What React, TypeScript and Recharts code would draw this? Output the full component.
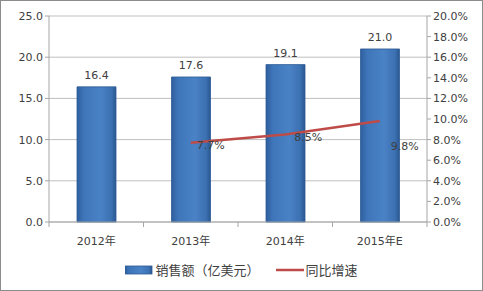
import React from 'react'
import {
  ComposedChart,
  Bar,
  Line,
  XAxis,
  YAxis,
  CartesianGrid,
  LabelList,
  Legend,
} from 'recharts'

const categories = ['2012年', '2013年', '2014年', '2015年E']
const sales = [16.4, 17.6, 19.1, 21.0]
const growth: (number | null)[] = [null, 7.7, 8.5, 9.8]
const leftTicks = [0, 5, 10, 15, 20, 25]
const rightTicks = [0, 2, 4, 6, 8, 10, 12, 14, 16, 18, 20]

const data = categories.map((c, i) => ({ name: c, sales: sales[i], growth: growth[i] }))

// label nudges for the growth line labels (Excel put them a bit off the points)
const growthLabelShift = [
  { dx: 0, dy: 0 },
  { dx: 20, dy: 3 },
  { dx: 23, dy: 4 },
  { dx: 25, dy: 26 },
]

const W = 483
const H = 291
const PLOT_LEFT = 49
const PLOT_RIGHT = 427
const BAND = (PLOT_RIGHT - PLOT_LEFT) / categories.length

const font = '"DejaVu Sans", Verdana, sans-serif'
const cjk = '"DejaVu Sans", "Noto Sans CJK SC", sans-serif'
const textColor = '#404040'
const axisGray = '#a6a6a6'
const lineRed = '#be4b48'

const XTick = (props: any) => {
  const { x, y, payload, index } = props
  const left = x - BAND / 2
  return (
    <g>
      <line x1={left} x2={left} y1={y - 8} y2={y - 3} stroke={axisGray} />
      {index === categories.length - 1 ? (
        <line x1={x + BAND / 2} x2={x + BAND / 2} y1={y - 8} y2={y - 3} stroke={axisGray} />
      ) : null}
      <text x={x} y={y + 15} textAnchor="middle" fill={textColor} fontSize={11} fontFamily={cjk}>
        {payload.value}
      </text>
    </g>
  )
}

const GrowthLabel = (props: any) => {
  const { x, y, value, index } = props
  if (value == null) return null
  const s = growthLabelShift[index] || { dx: 0, dy: 0 }
  return (
    <text
      x={x + s.dx}
      y={y + s.dy}
      textAnchor="middle"
      dominantBaseline="middle"
      fill={textColor}
      fontSize={11}
      fontFamily={font}
    >
      {Number(value).toFixed(1)}%
    </text>
  )
}

const LegendContent = () => (
  <div
    style={{
      display: 'flex',
      justifyContent: 'center',
      alignItems: 'center',
      paddingTop: 8,
      fontFamily: '"Noto Sans CJK SC", sans-serif',
      fontSize: 13,
      color: textColor,
    }}
  >
    <svg width={28} height={10} style={{ marginRight: 2 }}>
      <rect x={0} y={1} width={27} height={8} fill="url(#barGrad)" stroke="#2c5a94" strokeWidth={0.8} />
    </svg>
    <span>销售额（亿美元）</span>
    <svg width={28} height={10} style={{ marginLeft: 16, marginRight: 2 }}>
      <line x1={0} x2={28} y1={5} y2={5} stroke={lineRed} strokeWidth={2.5} />
    </svg>
    <span>同比增速</span>
  </div>
)

export default function App() {
  return (
    <div style={{ position: 'absolute', left: 0, top: 0, width: W, height: H, background: '#fff' }}>
      <ComposedChart
        width={W}
        height={H}
        data={data}
        margin={{ top: 16, right: 0, bottom: 0, left: 0 }}
        barCategoryGap={28}
      >
        <defs>
          <linearGradient id="barGrad" x1="0" y1="0" x2="1" y2="0">
            <stop offset="0%" stopColor="#2f5f9e" />
            <stop offset="18%" stopColor="#3f76ba" />
            <stop offset="60%" stopColor="#4a82c6" />
            <stop offset="88%" stopColor="#3c71b2" />
            <stop offset="100%" stopColor="#2a5790" />
          </linearGradient>
        </defs>
        <CartesianGrid yAxisId="left" horizontal vertical={false} stroke="#bfbfbf" />
        <XAxis
          dataKey="name"
          height={30}
          axisLine={{ stroke: axisGray }}
          tickLine={false}
          tick={<XTick />}
          interval={0}
        />
        <YAxis
          yAxisId="left"
          width={PLOT_LEFT}
          domain={[0, 25]}
          ticks={leftTicks}
          axisLine={{ stroke: axisGray }}
          tickLine={{ stroke: axisGray }}
          tickSize={4}
          tick={{ fill: textColor, fontSize: 11, fontFamily: font }}
          tickFormatter={(v: number) => v.toFixed(1)}
        />
        <YAxis
          yAxisId="right"
          orientation="right"
          width={W - PLOT_RIGHT}
          domain={[0, 20]}
          ticks={rightTicks}
          axisLine={{ stroke: axisGray }}
          tickLine={{ stroke: axisGray }}
          tickSize={4}
          tick={{ fill: textColor, fontSize: 11, fontFamily: font }}
          tickFormatter={(v: number) => `${v.toFixed(1)}%`}
        />
        <Legend verticalAlign="bottom" height={39} content={<LegendContent />} />
        <Bar
          yAxisId="left"
          dataKey="sales"
          fill="url(#barGrad)"
          stroke="#2c5a94"
          strokeWidth={0.8}
          isAnimationActive={false}
        >
          <LabelList
            dataKey="sales"
            position="top"
            offset={8}
            fill={textColor}
            fontSize={11}
            fontFamily={font}
            formatter={(v: any) => Number(v).toFixed(1)}
          />
        </Bar>
        <Line
          yAxisId="right"
          dataKey="growth"
          stroke={lineRed}
          strokeWidth={2.5}
          dot={false}
          activeDot={false}
          connectNulls={false}
          isAnimationActive={false}
        >
          <LabelList dataKey="growth" content={<GrowthLabel />} />
        </Line>
      </ComposedChart>
      <div
        style={{
          position: 'absolute',
          left: 0,
          top: 0,
          width: W,
          height: H,
          boxSizing: 'border-box',
          border: '1px solid #8c8c8c',
          pointerEvents: 'none',
        }}
      />
    </div>
  )
}
